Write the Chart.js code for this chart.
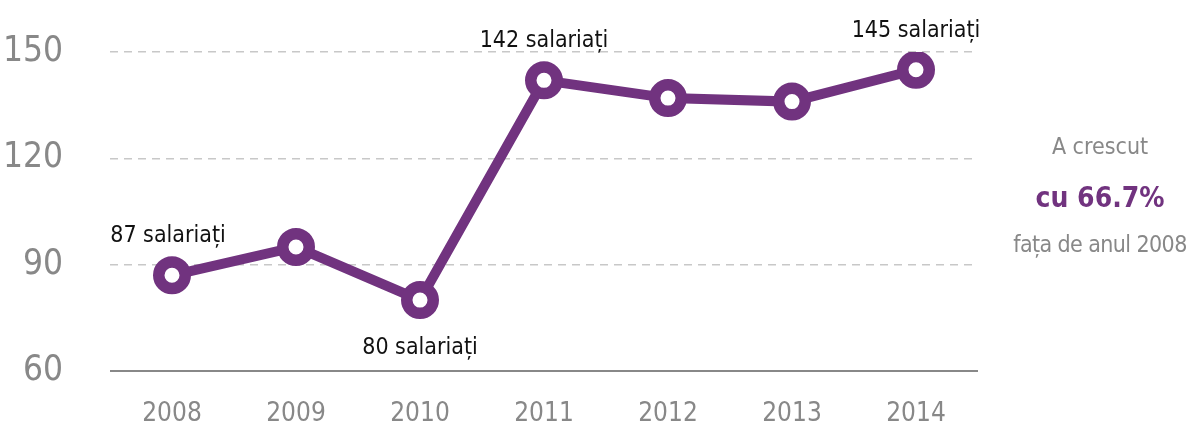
<!DOCTYPE html>
<html><head><meta charset="utf-8">
<script src="https://cdn.jsdelivr.net/npm/chart.js@4.4.1/dist/chart.umd.min.js"></script>
<style>
html,body{margin:0;padding:0;background:#fff;width:1192px;height:427px;overflow:hidden;}
#wrap{position:absolute;left:0;top:0;width:1192px;height:427px;}
.side{position:absolute;left:990px;width:220px;text-align:center;white-space:nowrap;font-family:'Liberation Sans Narrow','DejaVu Sans Condensed',sans-serif;color:#888;}
</style></head>
<body>
<div id="wrap"><canvas id="c" width="1192" height="427"></canvas></div>
<div class="side" style="top:133px;font-size:23px;">A crescut</div>
<div class="side" style="top:181px;font-size:28px;font-weight:bold;color:#71337f;">cu 66.7%</div>
<div class="side" style="top:231px;font-size:23px;letter-spacing:-0.6px;">fața de anul 2008</div>
<script>
const years = ['2008','2009','2010','2011','2012','2013','2014'];
const employees = [87, 95, 80, 142, 137, 136, 145];
const yTicks = [60, 90, 120, 150];
const labelText = ['87 salariați', null, '80 salariați', '142 salariați', null, null, '145 salariați'];
const labelSide = ['above', null, 'below', 'above', null, null, 'above'];

const FONT = "'Liberation Sans Narrow','DejaVu Sans Condensed',sans-serif";
const PURPLE = '#71337f';

const labelPlugin = {
  id: 'pointLabels',
  afterDatasetsDraw(chart) {
    const ctx = chart.ctx;
    const xs = chart.scales.x, ys = chart.scales.y;
    ctx.save();
    ctx.font = "23px " + FONT;
    ctx.fillStyle = '#111';
    ctx.textAlign = 'center';
    ctx.textBaseline = 'middle';
    employees.forEach((v, i) => {
      if (!labelText[i]) return;
      const x = xs.getPixelForValue(i);
      const y = ys.getPixelForValue(v);
      const dy = labelSide[i] === 'above' ? -39 : 48;
      ctx.fillText(labelText[i], x - (i === 0 ? 4 : 0), y + dy);
    });
    ctx.restore();
  }
};

new Chart(document.getElementById('c'), {
  type: 'line',
  data: {
    labels: years,
    datasets: [{
      data: employees,
      borderColor: PURPLE,
      borderWidth: 10,
      backgroundColor: '#fff',
      pointBackgroundColor: '#fff',
      pointBorderColor: PURPLE,
      pointBorderWidth: 11.5,
      pointRadius: 13.25,
      pointHoverRadius: 13.25,
      tension: 0,
      fill: false
    }]
  },
  options: {
    responsive: false,
    animation: false,
    events: [],
    layout: { padding: { top: 52, right: 214, left: 0, bottom: 0 } },
    plugins: { legend: { display: false }, tooltip: { enabled: false } },
    scales: {
      x: {
        offset: true,
        grid: { display: false, drawTicks: false },
        border: { display: false },
        ticks: { color: '#888', font: { family: FONT, size: 26 }, padding: 28 },
        afterFit(s) { s.height = 56; }
      },
      y: {
        min: 60, max: 150,
        afterBuildTicks(s) { s.ticks = yTicks.map(v => ({ value: v })); },
        grid: {
          drawTicks: true,
          tickLength: 47,
          tickColor: 'rgba(0,0,0,0)',
          color: (c) => c.tick && c.tick.value === 60 ? '#888' : '#c8c8c8',
          lineWidth: (c) => c.tick && c.tick.value === 60 ? 2 : 1.5
        },
        border: { display: false, dash: (c) => c.tick && c.tick.value === 60 ? [] : [8, 6] },
        ticks: { color: '#888', font: { family: FONT, size: 35 }, padding: 0 },
        afterFit(s) { s.width = 110; }
      }
    }
  },
  plugins: [labelPlugin]
});
</script>
</body></html>
